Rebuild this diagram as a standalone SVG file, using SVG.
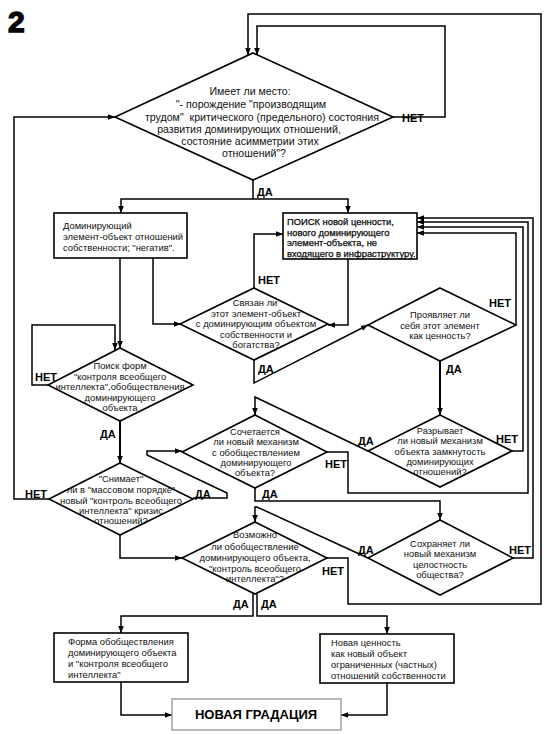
<svg xmlns="http://www.w3.org/2000/svg" width="556" height="734" viewBox="0 0 556 734">
<style>
.s{fill:#fff;stroke:#000;stroke-width:1.6}
.g{fill:#fff;stroke:#999;stroke-width:1.4}
.c{fill:none;stroke:#000;stroke-width:1.5}
.t{font-family:"Liberation Sans",Arial,sans-serif;font-size:9.4px;fill:#111}
.tm{text-anchor:middle}
.dk{stroke:#000;stroke-width:0.25}
.big{font-family:"Liberation Sans",Arial,sans-serif;font-size:10.6px;fill:#111;text-anchor:middle}
.l{font-family:"Liberation Sans",Arial,sans-serif;font-size:11px;font-weight:bold;fill:#000}
</style>
<defs>
<marker id="a" viewBox="0 0 10 10" refX="10" refY="5" markerWidth="7" markerHeight="7" markerUnits="userSpaceOnUse" orient="auto">
<path d="M0,1 L10,5 L0,9 z" fill="#000"/>
</marker>
</defs>
<rect width="556" height="734" fill="#fff"/>
<text x="8" y="32" font-family="Liberation Sans,Arial,sans-serif" font-size="30" font-weight="bold" stroke="#000" stroke-width="1.4">2</text>

<g id="connectors" class="c" marker-end="url(#a)">
<polyline points="327,558 348,558 348,604 541,604 541,14 248,14 248,55"/>
<polyline points="393,117 445,117 445,26 257,26 257,55"/>
<polyline points="49,499 14,499 14,117 115,117"/>
<polyline points="253,180 253,199" marker-end="none"/>
<polyline points="253,199 121,199 121,213"/>
<polyline points="253,199 348,199 348,213"/>
<polyline points="120,258 120,348"/>
<polyline points="153,258 153,324 181,324"/>
<polyline points="348,259 348,325 328,325"/>
<polyline points="254,288 254,234 283,234"/>
<polyline points="254,360 254,383 368,325"/>
<polyline points="516,325 516,233 417,233"/>
<polyline points="440,361 440,415" stroke-width="2"/>
<polyline points="512,451 523,451 523,227 417,227"/>
<polyline points="368,451 255,397 255,415"/>
<polyline points="327,452 348,452 348,493 528,493 528,222 417,222"/>
<polyline points="255,488 255,501 440,501 440,520"/>
<polyline points="513,558 533,558 533,218 417,218"/>
<polyline points="368,558 257,507 255,507 255,522"/>
<polyline points="120,421 120,463" stroke-width="2"/>
<polyline points="48,385 32,385 32,325 115,325 115,350"/>
<polyline points="193,498 227,498 227,493 147,455 147,451 182,451"/>
<polyline points="120,535 120,558 182,558"/>
<polyline points="253,594 253,616 121,616 121,633"/>
<polyline points="257,594 257,616 387,616 387,634"/>
<polyline points="121,682 121,715 172,715"/>
<polyline points="387,683 387,715 341,715"/>
</g>

<g id="d-top">
<polygon class="s" points="253,53 393,117 253,180 115,117"/>
<text class="big" x="250" y="95">Имеет ли место:</text>
<text class="big" x="251" y="108">"- порождение "производящим</text>
<text class="big" x="262" y="121" xml:space="preserve">трудом"  критического (предельного) состояния</text>
<text class="big" x="249" y="133">развития доминирующих отношений,</text>
<text class="big" x="250" y="145">состояние асимметрии этих</text>
<text class="big" x="254" y="157">отношений"?</text>
</g>

<g id="b-dom">
<rect class="s" x="54" y="213" width="133" height="45"/>
<text class="t" x="63" y="229">Доминирующий</text>
<text class="t" x="63" y="240">элемент-объект отношений</text>
<text class="t" x="63" y="251">собственности; "негатив".</text>
</g>

<g id="b-poisk">
<rect class="s" x="283" y="213" width="134" height="46"/>
<text class="t dk" x="287" y="225">ПОИСК новой ценности,</text>
<text class="t dk" x="287" y="236">нового доминирующего</text>
<text class="t dk" x="287" y="246">элемент-объекта, не</text>
<text class="t dk" x="287" y="257">входящего в инфраструктуру.</text>
</g>

<g id="d-svyazan">
<polygon class="s" points="254,288 328,324 254,360 180,324"/>
<text class="t tm" x="255" y="306">Связан ли</text>
<text class="t tm" x="256" y="317">этот элемент-объект</text>
<text class="t tm" x="256" y="327">с доминирующим объектом</text>
<text class="t tm" x="256" y="338">собственности и</text>
<text class="t tm" x="256" y="348">богатства?</text>
</g>

<g id="d-proyav">
<polygon class="s" points="440,288 516,325 440,361 368,325"/>
<text class="t tm" x="440" y="318">Проявляет ли</text>
<text class="t tm" x="440" y="329">себя этот элемент</text>
<text class="t tm" x="440" y="339">как ценность?</text>
</g>

<g id="d-poisk-form">
<polygon class="s" points="120,348 193,385 120,421 48,385"/>
<text class="t tm" x="120" y="369">Поиск форм</text>
<text class="t tm" x="120" y="380">"контроля всеобщего</text>
<text class="t tm" x="120" y="390">интеллекта",обобществления</text>
<text class="t tm" x="120" y="401">доминирующего</text>
<text class="t tm" x="120" y="411">объекта</text>
</g>

<g id="d-razryv">
<polygon class="s" points="440,415 512,451 440,487 368,451"/>
<text class="t tm" x="440" y="434">Разрывает</text>
<text class="t tm" x="440" y="444">ли новый механизм</text>
<text class="t tm" x="440" y="455">объекта замкнутость</text>
<text class="t tm" x="440" y="465">доминирующих</text>
<text class="t tm" x="440" y="475">отношений?</text>
</g>

<g id="d-sochet">
<polygon class="s" points="255,415 327,452 255,488 182,452"/>
<text class="t tm" x="255" y="435">Сочетается</text>
<text class="t tm" x="256" y="445">ли новый механизм</text>
<text class="t tm" x="256" y="456">с обобществлением</text>
<text class="t tm" x="256" y="466">доминирующего</text>
<text class="t tm" x="255" y="476">объекта?</text>
</g>

<g id="d-snimaet">
<polygon class="s" points="120,463 193,499 120,535 49,499"/>
<text class="t tm" x="121" y="482">"Снимает"</text>
<text class="t tm" x="121" y="493">ли в "массовом порядке"</text>
<text class="t tm" x="121" y="504">новый "контроль всеобщего</text>
<text class="t tm" x="121" y="514">интеллекта" кризис</text>
<text class="t tm" x="121" y="524">отношений?</text>
</g>

<g id="d-sohran">
<polygon class="s" points="440,520 513,558 440,595 368,558"/>
<text class="t tm" x="440" y="547">Сохраняет ли</text>
<text class="t tm" x="440" y="557">новый механизм</text>
<text class="t tm" x="440" y="568">целостность</text>
<text class="t tm" x="440" y="578">общества?</text>
</g>

<g id="d-vozm">
<polygon class="s" points="255,522 327,558 255,594 182,558"/>
<text class="t tm" x="255" y="538">Возможно</text>
<text class="t tm" x="255" y="550">ли обобществление</text>
<text class="t tm" x="255" y="561">доминирующего объекта,</text>
<text class="t tm" x="255" y="572">"контроль всеобщего</text>
<text class="t tm" x="255" y="582">интеллекта"?</text>
</g>

<g id="b-forma">
<rect class="s" x="54" y="633" width="134" height="49"/>
<text class="t" x="68" y="645">Форма обобществления</text>
<text class="t" x="68" y="656">доминирующего объекта</text>
<text class="t" x="68" y="667">и "контроля всеобщего</text>
<text class="t" x="68" y="678">интеллекта"</text>
</g>

<g id="b-novaya">
<rect class="s" x="320" y="634" width="134" height="49"/>
<text class="t" x="331" y="646">Новая ценность</text>
<text class="t" x="331" y="657">как новый объект</text>
<text class="t" x="331" y="668">ограниченных (частных)</text>
<text class="t" x="331" y="679">отношений собственности</text>
</g>

<g id="b-gradaciya">
<rect class="g" x="172" y="699" width="169" height="31"/>
<text x="256" y="719" text-anchor="middle" font-family="Liberation Sans,Arial,sans-serif" font-size="13" font-weight="bold">НОВАЯ ГРАДАЦИЯ</text>
</g>

<g id="labels" class="l">
<text x="402" y="122">НЕТ</text>
<text x="257" y="196">ДА</text>
<text x="258" y="284">НЕТ</text>
<text x="258" y="373">ДА</text>
<text x="489" y="307">НЕТ</text>
<text x="446" y="373">ДА</text>
<text x="358" y="445">ДА</text>
<text x="496" y="443">НЕТ</text>
<text x="325" y="468">НЕТ</text>
<text x="262" y="498">ДА</text>
<text x="358" y="554">ДА</text>
<text x="509" y="554">НЕТ</text>
<text x="322" y="575">НЕТ</text>
<text x="233" y="608">ДА</text>
<text x="261" y="608">ДА</text>
<text x="35" y="381">НЕТ</text>
<text x="100" y="438">ДА</text>
<text x="25" y="498">НЕТ</text>
<text x="195" y="498">ДА</text>
</g>
</svg>
